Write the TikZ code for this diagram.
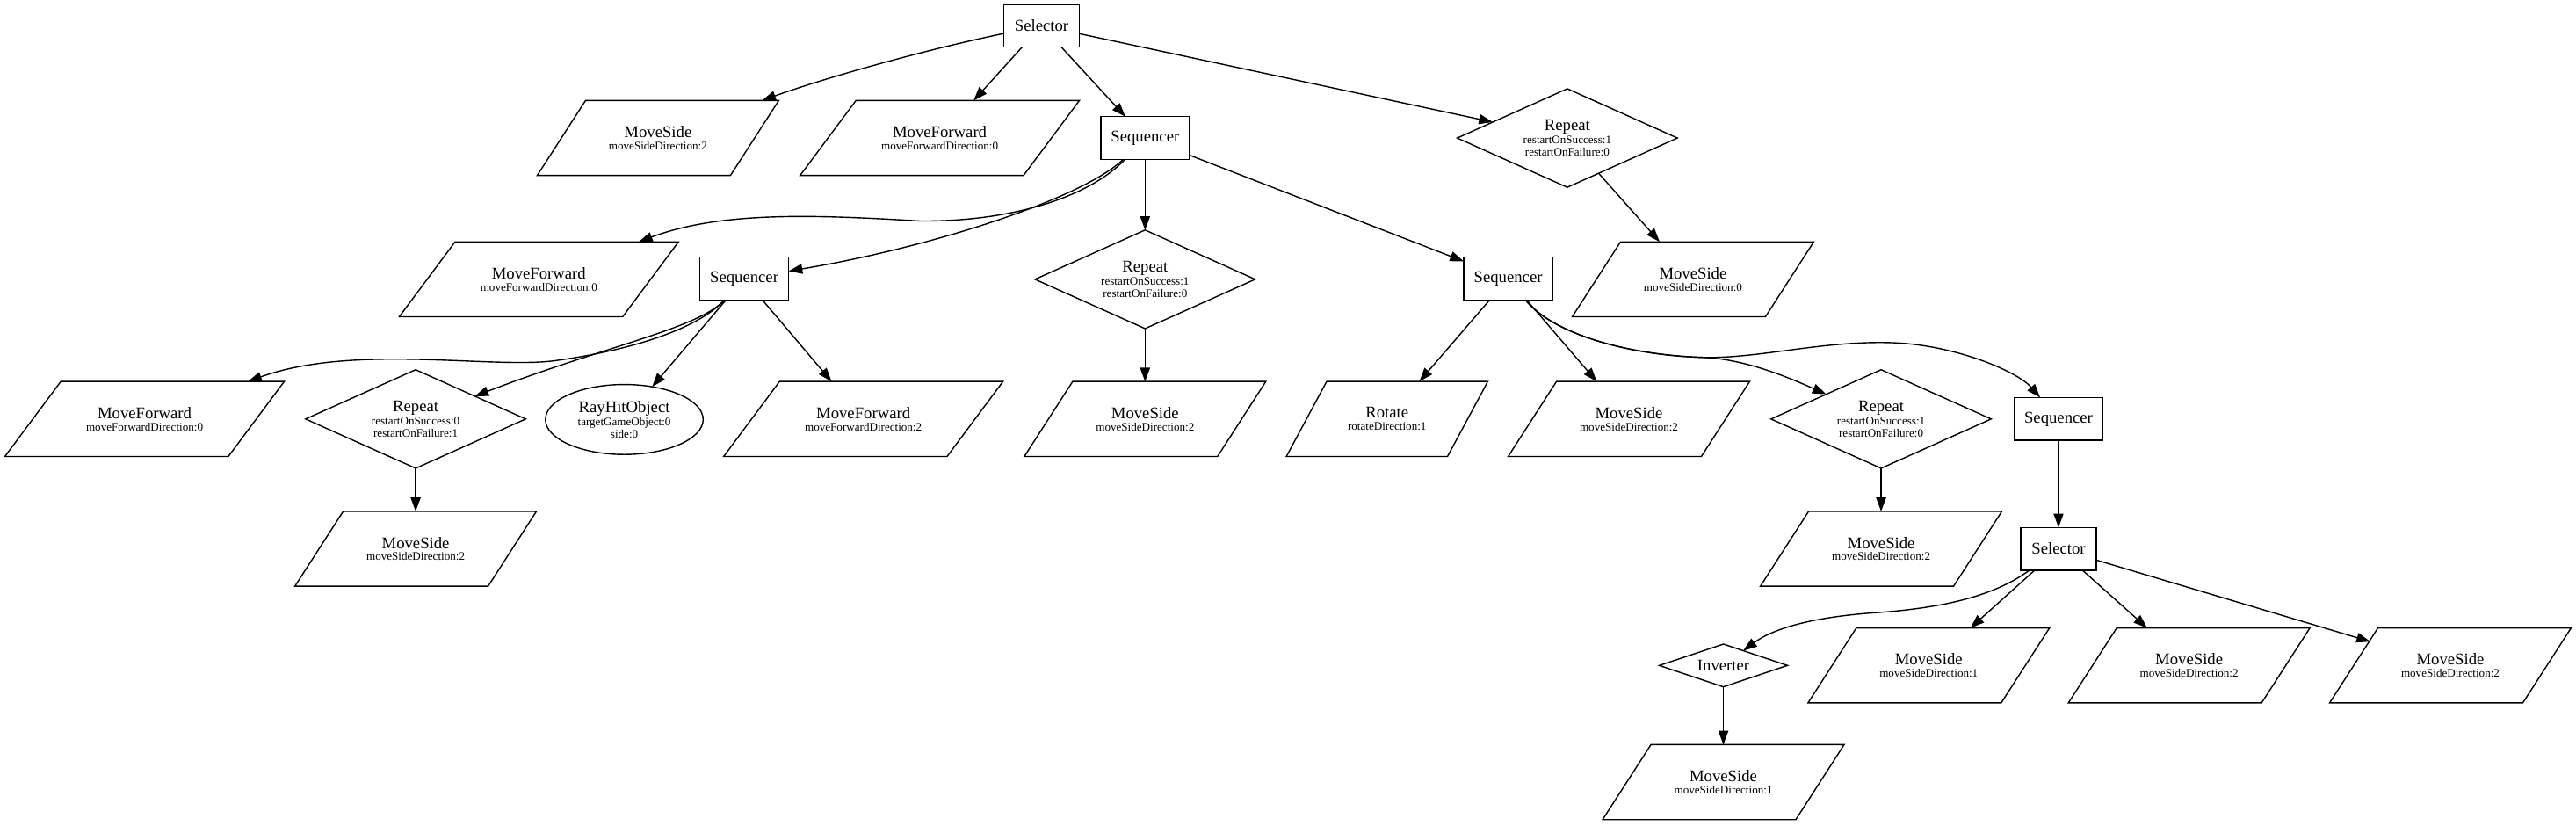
\documentclass[tikz,border=0pt]{standalone}
\usepackage{fontspec}
\setmainfont{Liberation Serif}
\usetikzlibrary{shapes.geometric,arrows.meta}
\newcommand\mainlbl[1]{{\fontsize{10}{12}\selectfont #1}}
\tikzset{
  lbl/.style={inner sep=0pt, outer sep=0pt, align=center, font=\fontsize{7}{7.4}\selectfont},
  bnode/.style={lbl, draw, rectangle, line width=0.75pt, minimum width=54pt, minimum height=26pt},
  dnode/.style={lbl, draw, diamond, shape aspect=2.3, line width=0.75pt, minimum width=134pt, minimum height=60pt},
  enode/.style={lbl, draw, ellipse, line width=0.75pt, minimum width=96pt, minimum height=42.6pt},
  pnode/.style={lbl, rectangle, minimum height=45.6pt},
  outline/.style={draw, line width=0.75pt, line join=miter},
  conn/.style={-{Triangle[length=8.4pt,width=6pt]}, line width=0.75pt},
}
% parallelogram: name, x, y, total width, text
\newcommand\pgm[5]{%
  \node[pnode, minimum width=#4pt] (#1) at (#2,#3) {#5};
  \draw[outline] (#1.south west) -- ([xshift=-#4*0.2pt]#1.south east) -- (#1.north east) -- ([xshift=#4*0.2pt]#1.north west) -- cycle;
}
\begin{document}
\begin{tikzpicture}[x=1pt,y=-1pt]
\useasboundingbox (0,0) rectangle (1568,502.2);
% row 1
\node[bnode, minimum width=46pt] (sel1) at (634,15.6) {\mainlbl{Selector}};
% row 2
\pgm{msA}{400.5}{84}{147}{\mainlbl{MoveSide}\\moveSideDirection:2}
\pgm{mfA}{572}{84}{170}{\mainlbl{MoveForward}\\moveForwardDirection:0}
\node[bnode] (seq1) at (697,84) {\mainlbl{Sequencer}};
\node[dnode] (rep1) at (954,84) {\mainlbl{Repeat}\\[0.7pt]restartOnSuccess:1\\restartOnFailure:0};
% row 3
\pgm{mfB}{328}{170}{170}{\mainlbl{MoveForward}\\moveForwardDirection:0}
\node[bnode] (seq2) at (453,169.5) {\mainlbl{Sequencer}};
\node[dnode] (rep2) at (697,170) {\mainlbl{Repeat}\\[0.7pt]restartOnSuccess:1\\restartOnFailure:0};
\node[bnode] (seq3) at (918,169.5) {\mainlbl{Sequencer}};
\pgm{msB}{1030.5}{170}{147}{\mainlbl{MoveSide}\\moveSideDirection:0}
% row 4
\pgm{mfC}{88}{255}{170}{\mainlbl{MoveForward}\\moveForwardDirection:0}
\node[dnode] (rep3) at (253,255) {\mainlbl{Repeat}\\[0.7pt]restartOnSuccess:0\\restartOnFailure:1};
\node[enode] (ray) at (380,255.3) {\mainlbl{RayHitObject}\\[0.7pt]targetGameObject:0\\side:0};
\pgm{mfD}{525.5}{255}{170}{\mainlbl{MoveForward}\\moveForwardDirection:2}
\pgm{msC}{697}{255}{147}{\mainlbl{MoveSide}\\moveSideDirection:2}
\pgm{rot}{844.3}{255}{122.6}{\mainlbl{Rotate}\\rotateDirection:1}
\pgm{msD}{991.5}{255}{147}{\mainlbl{MoveSide}\\moveSideDirection:2}
\node[dnode] (rep4) at (1145,255) {\mainlbl{Repeat}\\[0.7pt]restartOnSuccess:1\\restartOnFailure:0};
\node[bnode] (seq4) at (1253,255) {\mainlbl{Sequencer}};
% row 5
\pgm{msE}{253}{334}{147}{\mainlbl{MoveSide}\\moveSideDirection:2}
\pgm{msF}{1145}{334}{147}{\mainlbl{MoveSide}\\moveSideDirection:2}
\node[bnode, minimum width=46pt] (sel2) at (1253,334) {\mainlbl{Selector}};
% row 6
\node[dnode, shape aspect=3, minimum width=78pt, minimum height=26pt] (inv) at (1049,405) {\mainlbl{Inverter}};
\pgm{msG}{1174}{405}{147}{\mainlbl{MoveSide}\\moveSideDirection:1}
\pgm{msH}{1332.5}{405}{147}{\mainlbl{MoveSide}\\moveSideDirection:2}
\pgm{msI}{1491.5}{405}{147}{\mainlbl{MoveSide}\\moveSideDirection:2}
% row 7
\pgm{msJ}{1049}{476}{147}{\mainlbl{MoveSide}\\moveSideDirection:1}
% edges
\draw[conn] (sel1) .. controls (560,31) and (500.5,48) .. (msA);
\draw[conn] (sel1) -- (mfA);
\draw[conn] (sel1) -- (seq1);
\draw[conn] (sel1) -- (rep1);
\draw[conn] (rep1) -- (msB);
\draw[conn] (seq1) .. controls (665,118) and (620,135) .. (560,134.5) .. controls (500,131) and (440,128) .. (mfB);
\draw[conn] (seq1) .. controls (660,120) and (570,150) .. (seq2);
\draw[conn] (seq1) -- (rep2);
\draw[conn] (seq1) -- (seq3);
\draw[conn] (seq2) .. controls (425,200) and (385,213) .. (338,219.5) .. controls (300,224.7) and (215,209) .. (mfC);
\draw[conn] (seq2) .. controls (425,200) and (370,210) .. (rep3);
\draw[conn] (seq2) -- (ray);
\draw[conn] (seq2) -- (mfD);
\draw[conn] (rep2) -- (msC);
\draw[conn] (rep3) -- (msE);
\draw[conn] (seq3) -- (rot);
\draw[conn] (seq3) -- (msD);
\draw[conn] (seq3) .. controls (945,203) and (990,216) .. (1036,217.5) .. controls (1060,218.3) and (1085,228) .. (rep4);
\draw[conn] (seq3) .. controls (945,203) and (990,216) .. (1036,217.5) .. controls (1070,218.5) and (1110,207) .. (1152.5,208.6) .. controls (1190,210) and (1228,226) .. (seq4);
\draw[conn] (rep4) -- (msF);
\draw[conn] (seq4) -- (sel2);
\draw[conn] (sel2) .. controls (1215,362) and (1185,370) .. (1140,373) .. controls (1105,375.5) and (1080,382) .. (inv);
\draw[conn] (sel2) -- (msG);
\draw[conn] (sel2) -- (msH);
\coordinate (msIin) at (1442.8,390.5);
\draw[conn] (sel2) -- (msIin);
\draw[conn] (inv) -- (msJ);
\end{tikzpicture}
\end{document}
